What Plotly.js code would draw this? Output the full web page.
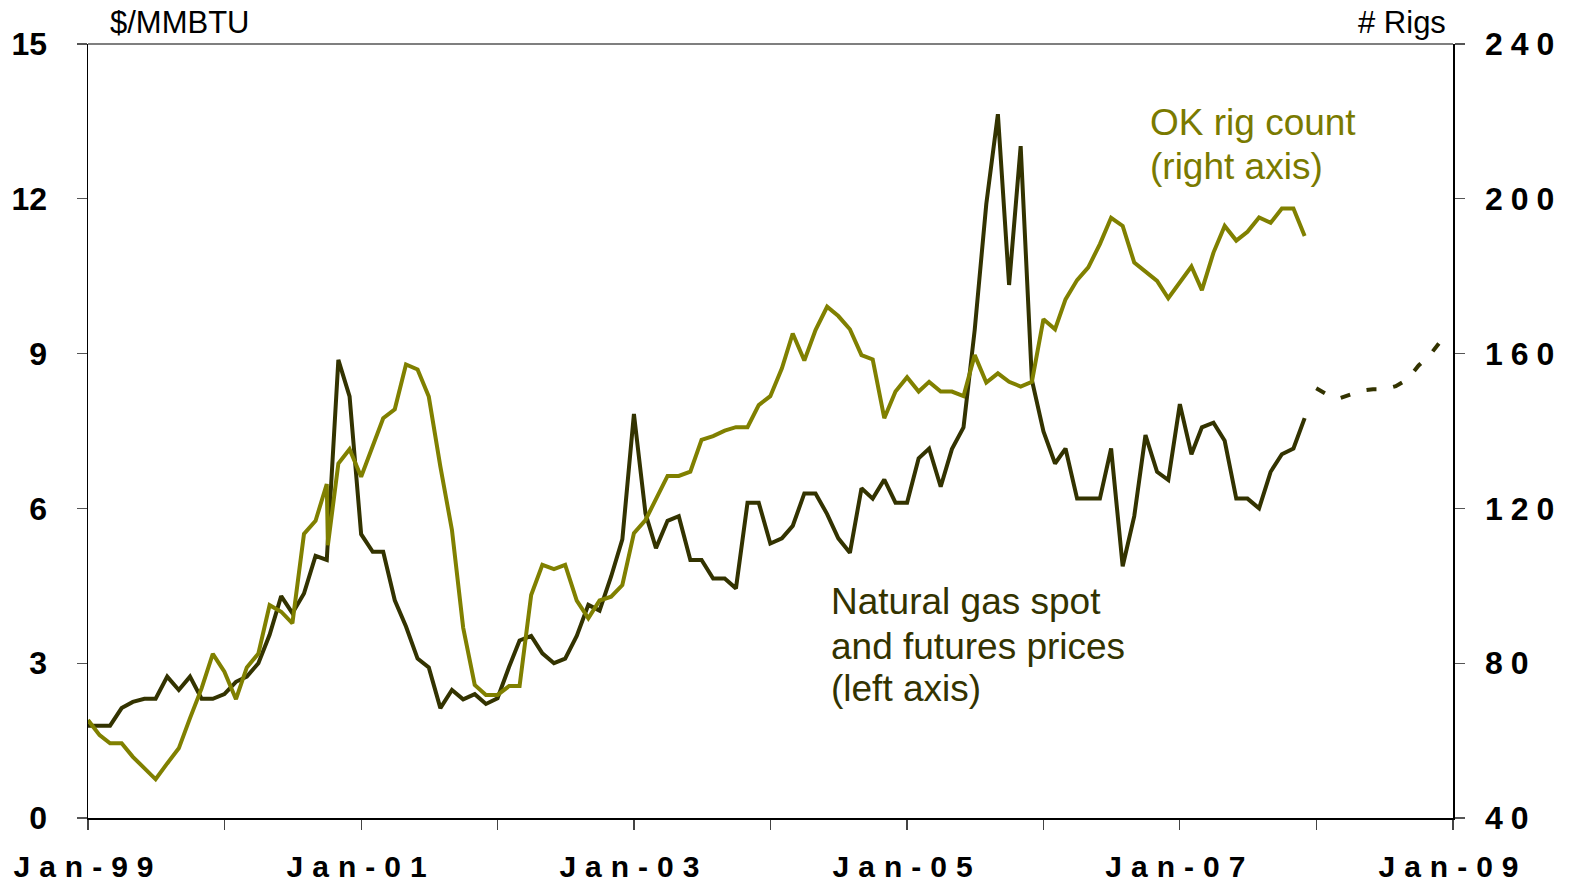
<!DOCTYPE html>
<html>
<head>
<meta charset="utf-8">
<script src="https://cdn.plot.ly/plotly-3.0.1.min.js"></script>
<style>
  html, body { margin: 0; padding: 0; background: #fff; }
  #chart { width: 1569px; height: 884px; }
  .xtick text { letter-spacing: 9px; }
  .y2tick text { letter-spacing: 8px; }
</style>
</head>
<body>
<div id="chart"></div>
<script>
// Monthly observations Jan-1999 .. Dec-2007
const startYear = 1999;
const nMonths = 108;
const months = [];
for (let i = 0; i < nMonths; i++) {
  const y = startYear + Math.floor(i / 12);
  const m = (i % 12) + 1;
  months.push(y + '-' + (m < 10 ? '0' + m : m) + '-01');
}

// Natural gas spot price, $/MMBTU (left axis)
const gasSpot = [
  1.79, 1.79, 1.79, 2.13, 2.25, 2.31, 2.31, 2.74, 2.48, 2.74, 2.31, 2.31,
  2.40, 2.64, 2.74, 3.00, 3.55, 4.30, 3.97, 4.35, 5.08, 5.00, 8.88, 8.17,
  5.50, 5.16, 5.16, 4.22, 3.71, 3.09, 2.92, 2.13, 2.48, 2.30, 2.40, 2.21,
  2.32, 2.93, 3.44, 3.53, 3.19, 3.00, 3.09, 3.53, 4.13, 4.02, 4.68, 5.40,
  7.83, 5.90, 5.23, 5.76, 5.85, 5.00, 5.00, 4.64, 4.64, 4.45, 6.11, 6.11,
  5.32, 5.42, 5.66, 6.29, 6.29, 5.89, 5.42, 5.14, 6.39, 6.19, 6.56, 6.11,
  6.11, 6.97, 7.16, 6.42, 7.15, 7.57, 9.46, 11.90, 13.64, 10.33, 13.02, 8.49,
  7.49, 6.87, 7.16, 6.19, 6.19, 6.19, 7.16, 4.88, 5.85, 7.42, 6.71, 6.55,
  8.02, 7.05, 7.57, 7.66, 7.31, 6.19, 6.19, 6.00, 6.71, 7.05, 7.16, 7.75
];

// Futures prices 2008 (left axis, dashed)
const futuresDates = [
  '2008-01-01','2008-02-01','2008-03-01','2008-04-01','2008-05-01','2008-06-01',
  '2008-07-01','2008-08-01','2008-09-01','2008-10-01','2008-11-01','2008-12-01'
];
const futures = [8.33, 8.20, 8.13, 8.20, 8.28, 8.31, 8.31, 8.37, 8.50, 8.77, 8.98, 9.26];

// Oklahoma rig count (right axis)
const rigCount = [
  65.3, 61.4, 59.3, 59.3, 55.8, 52.8, 50.0, 54.1, 58.0, 65.8, 73.5, 82.4,
  77.8, 70.7, 78.9, 82.5, 95.0, 93.3, 90.3, 113.4, 116.8, 126.3, 131.6, 135.3,
  128.2, 135.9, 143.3, 145.6, 157.2, 155.9, 148.9, 130.8, 114.4, 89.2, 74.4, 71.8,
  71.8, 74.1, 74.1, 97.6, 105.4, 104.3, 105.4, 96.2, 91.6, 96.2, 97.2, 100.2,
  113.6, 117.0, 122.2, 128.4, 128.4, 129.5, 137.7, 138.7, 140.1, 141.0, 141.0, 146.7,
  149.0, 156.2, 165.2, 158.2, 166.1, 172.1, 169.7, 166.3, 159.6, 158.5, 143.3, 150.2,
  153.9, 150.2, 152.7, 150.2, 150.2, 149.0, 159.6, 152.5, 154.9, 152.7, 151.5, 152.7,
  168.9, 166.3, 174.0, 179.0, 182.3, 188.3, 195.1, 193.0, 183.5, 181.2, 178.8, 174.3,
  178.5, 182.5, 176.4, 186.1, 193.0, 189.2, 191.5, 195.2, 193.8, 197.5, 197.5, 190.4
];
// extra early-month reading in Oct-2000
const rigExtraDate = '2000-10-04';
const rigExtraValue = 110.5;
const rigExtraAfterIndex = 21;

const rigX = months.slice(0, rigExtraAfterIndex + 1).concat([rigExtraDate], months.slice(rigExtraAfterIndex + 1));
const rigY = rigCount.slice(0, rigExtraAfterIndex + 1).concat([rigExtraValue], rigCount.slice(rigExtraAfterIndex + 1));

const xTickVals = ['1999-01-01','2001-01-01','2003-01-01','2005-01-01','2007-01-01','2009-01-01'];
const xTickText = ['Jan-99','Jan-01','Jan-03','Jan-05','Jan-07','Jan-09'];
const leftTicks = [0, 3, 6, 9, 12, 15];
const rightTicks = [40, 80, 120, 160, 200, 240];

const rigLabelLines = ['OK rig count', '(right axis)'];
const gasLabelLines = ['Natural gas spot', 'and futures prices', '(left axis)'];

const FONT = 'Liberation Sans, Arial, sans-serif';
const DARK = '#333300';
const OLIVE = '#808000';

const traces = [
  {
    x: rigX, y: rigY, yaxis: 'y2', type: 'scatter', mode: 'lines',
    line: { color: OLIVE, width: 4 }, hoverinfo: 'skip'
  },
  {
    x: months, y: gasSpot, type: 'scatter', mode: 'lines',
    line: { color: DARK, width: 4 }, hoverinfo: 'skip'
  },
  {
    x: futuresDates, y: futures, type: 'scatter', mode: 'lines',
    line: { color: DARK, width: 4, dash: '10px,17px' }, hoverinfo: 'skip'
  }
];

function label(text, x, y, anchor, size, color) {
  return { xref: 'paper', yref: 'paper', x: x, y: y, xanchor: anchor, yanchor: 'middle',
    align: 'left', borderpad: 0, text: text, showarrow: false,
    font: { family: FONT, size: size, color: color } };
}

const annotations = [
  label('$/MMBTU', 0.0155, 1.028, 'left', 31, '#000'),
  label('# Rigs', 0.9956, 1.028, 'right', 31, '#000')
];
const rigLineY = [0.8992, 0.8411];
rigLabelLines.forEach((t, i) => annotations.push(label(t, 0.777, rigLineY[i], 'left', 37, '#7a7a00')));
const gasLineY = [0.2791, 0.2222, 0.1667];
gasLabelLines.forEach((t, i) => annotations.push(label(t, 0.5436, gasLineY[i], 'left', 37, DARK)));

const layout = {
  width: 1569, height: 884,
  margin: { l: 88, r: 116, t: 44, b: 66 },
  paper_bgcolor: '#fff', plot_bgcolor: '#fff',
  showlegend: false,
  font: { family: FONT, color: '#000' },
  xaxis: {
    type: 'date',
    range: ['1999-01-01', '2009-01-01'],
    tickvals: xTickVals, ticktext: xTickText,
    ticks: 'outside', ticklen: 10, tickwidth: 1.2, tickcolor: '#444',
    minor: { dtick: 'M12', tick0: '1999-01-01', ticks: 'outside', ticklen: 10, tickwidth: 1.2, tickcolor: '#444', showgrid: false },
    showline: true, linecolor: '#000', linewidth: 1.5,
    showgrid: false, zeroline: false,
    tickfont: { family: FONT, size: 30, color: '#000', weight: 'bold' },
    ticklabelstandoff: 11
  },
  yaxis: {
    range: [0, 15], tickvals: leftTicks,
    ticks: 'outside', ticklen: 10, tickwidth: 1.2, tickcolor: '#555',
    showline: true, linecolor: '#000', linewidth: 1.5,
    showgrid: false, zeroline: false,
    tickfont: { family: FONT, size: 32, color: '#000', weight: 'bold' },
    ticklabelstandoff: 23
  },
  yaxis2: {
    overlaying: 'y', side: 'right',
    range: [40, 240], tickvals: rightTicks,
    ticks: 'outside', ticklen: 10, tickwidth: 1.2, tickcolor: '#555',
    showline: true, linecolor: '#000', linewidth: 1.5,
    showgrid: false, zeroline: false,
    tickfont: { family: FONT, size: 32, color: '#000', weight: 'bold' },
    ticklabelstandoff: 14
  },
  shapes: [
    { type: 'line', xref: 'paper', yref: 'paper', x0: 0, x1: 1, y0: 1, y1: 1,
      line: { color: '#555', width: 1.5 } }
  ],
  annotations: annotations
};

Plotly.newPlot('chart', traces, layout, { staticPlot: true, displayModeBar: false });
</script>
</body>
</html>
